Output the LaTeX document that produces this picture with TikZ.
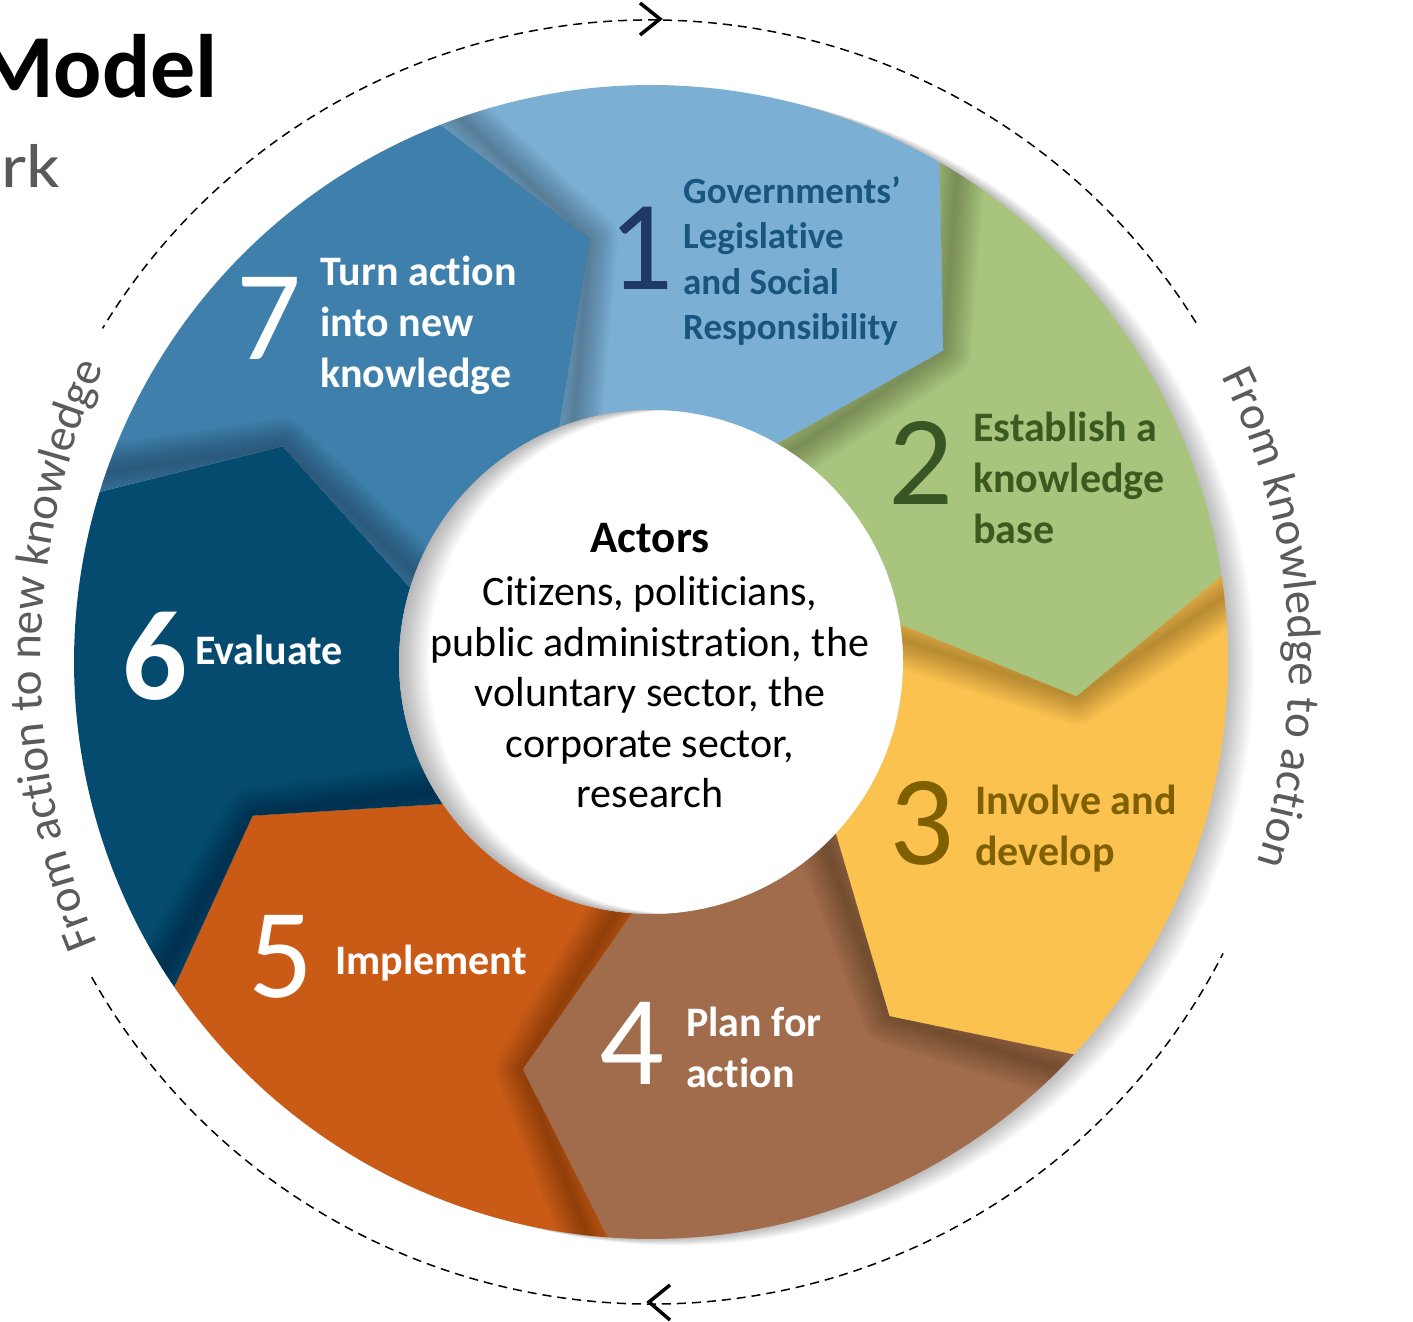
\documentclass[tikz,border=0pt]{standalone}
\usepackage{fontspec}
\setmainfont{Carlito}[Ligatures={TeX,NoCommon}]
\usetikzlibrary{decorations.text}
\definecolor{cA}{HTML}{7BAFD4}
\definecolor{cB}{HTML}{A9C47D}
\definecolor{cC}{HTML}{FCC24F}
\definecolor{cD}{HTML}{A06C4B}
\definecolor{cE}{HTML}{C95B17}
\definecolor{cF}{HTML}{054B6F}
\definecolor{cG}{HTML}{3F7FAB}
\definecolor{tA}{HTML}{18557F}
\definecolor{nA}{HTML}{203864}
\definecolor{tB}{HTML}{3A5A1F}
\definecolor{nB}{HTML}{375623}
\definecolor{tC}{HTML}{7F6000}
\definecolor{curvegray}{HTML}{5B5B5B}
\definecolor{subgray}{HTML}{595959}
\newcommand\curvefont{\fontsize{47}{56}\selectfont}
\tikzset{
  segpath/.style 2 args={insert path={([shift={(#1:577)}]C) arc[start angle=#1,end angle=#2,radius=577] -- ([shift={(#2-13.2:427)}]C) -- ([shift={(#2:252)}]C) arc[start angle=#2,end angle=#1,radius=252] -- ([shift={(#1-13.2:427)}]C) -- cycle}},
  seglabel/.style={font=\bfseries\fontsize{42}{51}\selectfont, align=left, anchor=base west, inner sep=0pt},
  segnum/.style={font=\fontsize{128}{128}\selectfont, anchor=base, inner sep=0pt},
  dashline/.style={line width=1.5pt, dash pattern=on 9pt off 6pt, black},
  arrowmark/.style={line width=3.5pt, black, line join=miter},
}
\begin{document}
\begin{tikzpicture}[x=1pt,y=1pt]
\useasboundingbox (0,0) rectangle (1413,1322);
\fill[white] (0,0) rectangle (1413,1322);
\coordinate (C) at (651,660);
\coordinate (CL) at (769,660);

% drop shadow of the ring
\foreach \d in {2,4,...,26}{
  \fill[black,opacity=0.018] ([shift={(\d,-0.25*\d)}]C) circle (577);
}

% segments
\fill[cA, segpath={111.43}{60}];
\fill[cB, segpath={60}{8.57}];
\fill[cC, segpath={8.57}{-42.86}];
\fill[cD, segpath={-42.86}{-94.29}];
\fill[cE, segpath={-94.29}{-145.71}];
\fill[cF, segpath={-145.71}{-197.14}];
\fill[cG, segpath={-197.14}{-248.57}];

% shadows cast by each arrow tip on the next segment
\foreach \b/\c in {60/8.57, 8.57/-42.86, -42.86/-94.29, -94.29/-145.71, -145.71/-197.14, -197.14/-248.57, 111.43/60}{
  \begin{scope}
    \clip[segpath={\b}{\c}];
    \foreach \w in {4,8,...,56}{
      \draw[black, opacity=0.02, line width=\w, line join=round]
        ([shift={(\b:620)}]C) -- ([shift={(\b-13.2:427)}]C) -- ([shift={(\b:220)}]C);
    }
  \end{scope}
}

% inner white circle with inset shadow
\fill[white] (C) circle (252);
\begin{scope}
  \clip (C) circle (252);
  \foreach \d in {2,4,...,30}{
    \fill[black, opacity=0.018, even odd rule] (C) circle (320) ([shift={(\d,0)}]C) circle (252);
  }
\end{scope}

% dashed outer circle
\draw[dashline] ([shift={(31.9:642)}]C) arc[start angle=31.9, end angle=148.7, radius=642];
\draw[dashline] ([shift={(209.4:642)}]C) arc[start angle=209.4, end angle=333, radius=642];
\coordinate (topA) at (640,1319);
\coordinate (topT) at (660,1303);
\coordinate (topB) at (640,1287);
\coordinate (botA) at (670,37);
\coordinate (botT) at (649,20);
\coordinate (botB) at (670,2);
\draw[arrowmark] (topA) -- (topT) -- (topB);
\draw[arrowmark] (botA) -- (botT) -- (botB);

% curved texts
\path[decorate, decoration={text along path, text={|\curvefont|From knowledge to action}, text align=center, text color=curvegray}]
  ([shift={(40:638)}]C) arc[start angle=40, end angle=-31.7, radius=638];
\path[decorate, decoration={text along path, text={|\curvefont|From action to new knowledge}, text align=center, text color=curvegray}]
  ([shift={(214.45:728)}]CL) arc[start angle=214.45, end angle=144.45, radius=728];

% title
\node[anchor=base east, inner sep=0pt, font=\bfseries\fontsize{90}{90}\selectfont] (title) at (218,1224) {Model};
\node[anchor=base east, inner sep=0pt, xscale=1.2, font=\fontsize{62}{62}\selectfont, text=subgray] (subtitle) at (61,1134) {rk};

% numbers
\node[segnum, text=nA] (n1) at (641,1032) {1};
\node[segnum, text=nB] (n2) at (921,817) {2};
\node[segnum, text=tC] (n3) at (922,457) {3};
\node[segnum, text=white] (n4) at (632,237) {4};
\node[segnum, text=white] (n5) at (281,324) {5};
\node[segnum, text=white, font=\bfseries\fontsize{128}{128}\selectfont] (n6) at (155,622) {6};
\node[segnum, text=white] (n7) at (269,962) {7};

% segment labels (anchored at the baseline of their last line)
\node[seglabel, text=tA, font=\bfseries\fontsize{37}{45.5}\selectfont] (s1) at (683,982) {Governments’\\Legislative\\and Social\\Responsibility};
\node[seglabel, text=tB] (s2) at (973,778) {Establish a\\knowledge\\base};
\node[seglabel, text=tC] (s3) at (975,456) {Involve and\\develop};
\node[seglabel, text=white] (s4) at (686,234) {Plan for\\action};
\node[seglabel, text=white] (s5) at (335,347) {Implement};
\node[seglabel, text=white] (s6) at (195,657) {Evaluate};
\node[seglabel, text=white] (s7) at (320,934) {Turn action\\into new\\knowledge};

% centre
\node[anchor=base, inner sep=0pt, font=\bfseries\fontsize{45}{51}\selectfont] (actors) at (650,769) {Actors};
\node[anchor=base, inner sep=0pt, align=center, font=\fontsize{42}{50.5}\selectfont] (actorlist) at (650,514) {Citizens, politicians,\\public administration, the\\voluntary sector, the\\corporate sector,\\research};
\end{tikzpicture}
\end{document}
